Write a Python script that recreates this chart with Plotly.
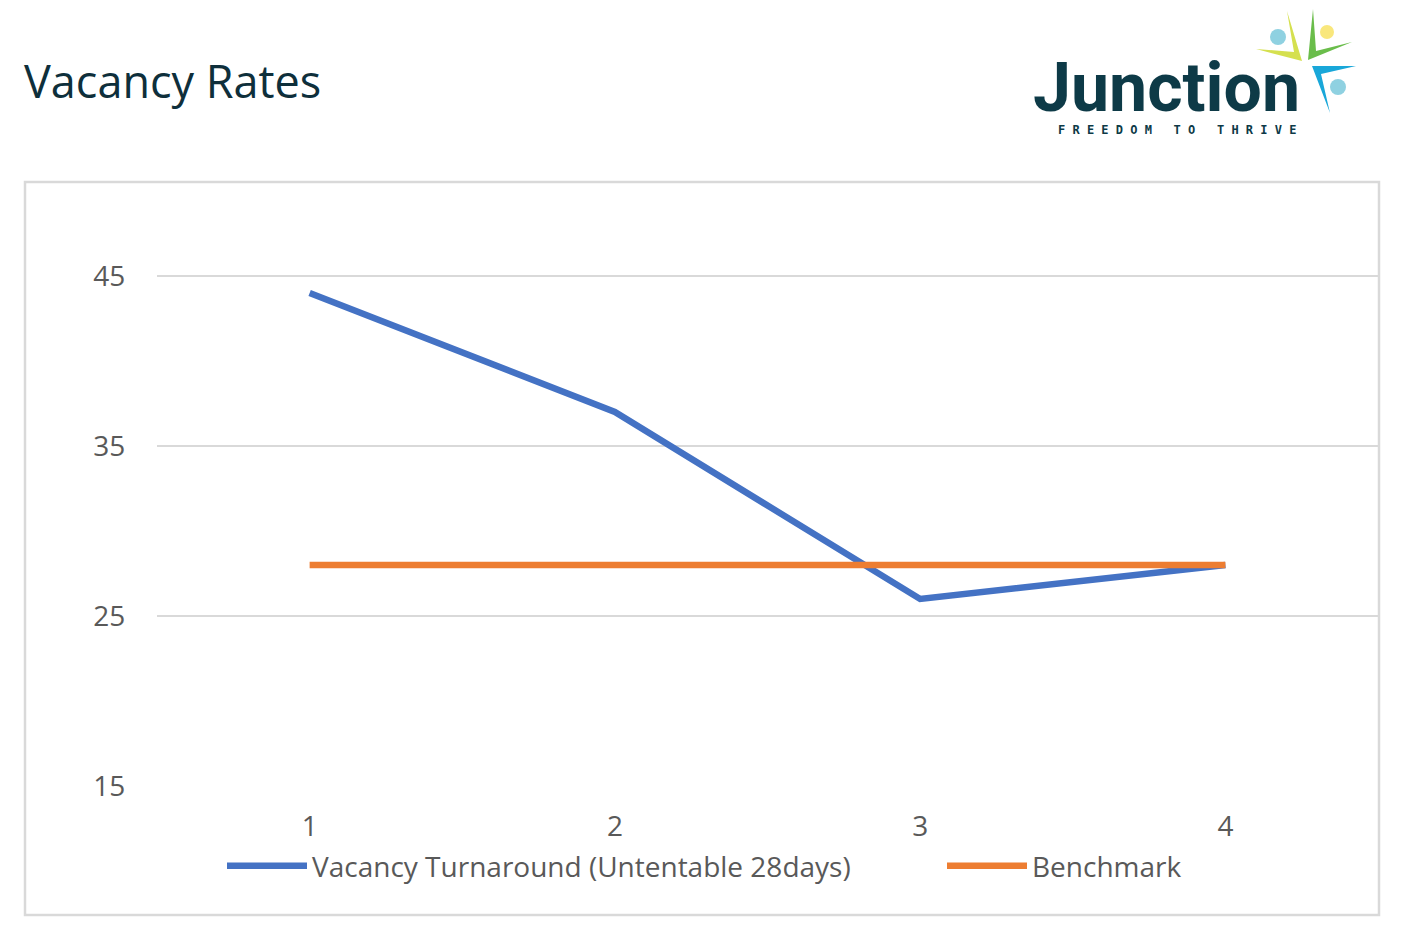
import plotly.graph_objects as go

# chart data
periods = [1, 2, 3, 4]
vacancy_turnaround = [44, 37, 26, 28]
benchmark = [28, 28, 28, 28]
y_ticks = [15, 25, 35, 45]

# the page puts the figure 8px in from the top-left corner
OFF = 8
W, H = 1392, 930
PLOT_X0, PLOT_X1 = 157, 1378   # plot area in page pixels
PLOT_Y0, PLOT_Y1 = 191, 786


def px(x):
    return (x - PLOT_X0) / (PLOT_X1 - PLOT_X0)


def py(y):
    return (PLOT_Y1 - y) / (PLOT_Y1 - PLOT_Y0)


def chevron(pts, color):
    # small filled polygon for the logo leaves, page pixel coords
    path = "M " + " L ".join(f"{px(x)},{py(y)}" for x, y in pts) + " Z"
    return dict(type="path", xref="paper", yref="paper", path=path,
                fillcolor=color, line=dict(width=0), layer="above")


def dot(cx, cy, r, color):
    return dict(type="circle", xref="paper", yref="paper",
                x0=px(cx - r), x1=px(cx + r), y0=py(cy + r), y1=py(cy - r),
                fillcolor=color, line=dict(width=0), layer="above")


def legend_box(x):
    return dict(visible=True, orientation="h", x=px(x), xanchor="left",
                y=py(866), yanchor="middle",
                font=dict(family="Open Sans", size=28, color="#595959"),
                itemwidth=80, bgcolor="rgba(0,0,0,0)")


fig = go.Figure()
fig.add_trace(go.Scatter(x=periods, y=vacancy_turnaround, mode="lines",
                         name="Vacancy Turnaround (Untentable 28days)", showlegend=True,
                         line=dict(color="#4472c4", width=6.5), legend="legend"))
fig.add_trace(go.Scatter(x=periods, y=benchmark, mode="lines",
                         name="Benchmark", showlegend=True,
                         line=dict(color="#ed7d31", width=6.5), legend="legend2"))

shapes = [
    # outer chart border
    dict(type="rect", xref="paper", yref="paper",
         x0=px(25), x1=px(1379), y0=py(915), y1=py(182),
         line=dict(color="#d9d9d9", width=2.5), layer="below"),
    # logo leaves
    chevron([(1287, 11), (1302, 61), (1256, 49), (1294, 52)], "#d5e04f"),
    chevron([(1313, 9), (1308, 60), (1352, 42), (1316, 51)], "#6abd4b"),
    chevron([(1356, 66), (1312, 66), (1330, 113), (1321, 74)], "#19a7d9"),
    dot(1278, 37, 8, "#8fd1e1"),
    dot(1327, 32, 7, "#f9e77c"),
    dot(1338, 87, 8, "#8fd1e1"),
]

annotations = [
    dict(text="Vacancy Rates", x=px(22), y=py(80), xref="paper", yref="paper",
         xanchor="left", yanchor="middle", showarrow=False,
         font=dict(family="Open Sans", size=45, color="#0e2f3b")),
    dict(text="<b>Junction</b>", x=px(1031), y=py(88), xref="paper", yref="paper",
         xanchor="left", yanchor="middle", showarrow=False,
         font=dict(family="Roboto", size=68, color="#0d3a47")),
    dict(text="<b>F R E E D O M   T O   T H R I V E</b>", x=px(1056), y=py(130),
         xref="paper", yref="paper", xanchor="left", yanchor="middle", showarrow=False,
         font=dict(family="DejaVu Sans Mono", size=12, color="#0d3a47")),
]

fig.update_layout(
    width=W, height=H,
    margin=dict(l=PLOT_X0 - OFF, r=W - (PLOT_X1 - OFF),
                t=PLOT_Y0 - OFF, b=H - (PLOT_Y1 - OFF)),
    paper_bgcolor="white", plot_bgcolor="white",
    showlegend=True,
    shapes=shapes, annotations=annotations,
    legend=legend_box(222),
    legend2=legend_box(942),
)
fig.update_xaxes(range=[0.5, 4.5], tickvals=periods, showgrid=False, zeroline=False,
                 showline=False, ticks="outside", ticklen=15, tickcolor="rgba(0,0,0,0)",
                 tickfont=dict(family="Open Sans", size=28, color="#595959"))
fig.update_yaxes(range=[15, 50], tickvals=y_ticks, showgrid=True, gridcolor="#d9d9d9",
                 gridwidth=2, zeroline=False, showline=False, ticks="outside",
                 ticklen=25, tickcolor="rgba(0,0,0,0)",
                 tickfont=dict(family="Open Sans", size=28, color="#595959"))

fig.write_html("out.html")
